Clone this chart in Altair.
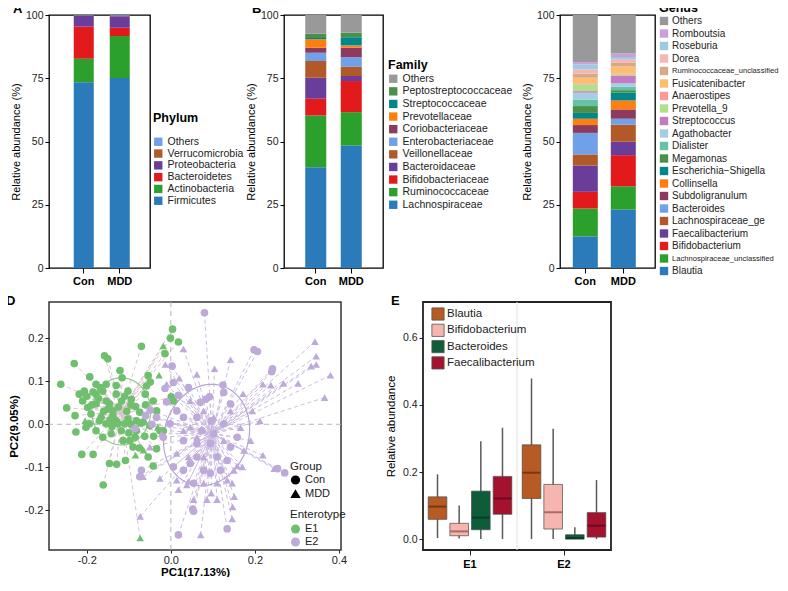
import altair as alt
import pandas as pd
import numpy as np

FONT = "Liberation Sans"
groups = ["Con", "MDD"]

# ---------------- Panel A: Phylum (bottom -> top) ----------------
phylum_names = ["Firmicutes", "Actinobacteria", "Bacteroidetes", "Proteobacteria", "Verrucomicrobia", "Others"]
phylum_colors = ["#2b7bba", "#2ca02c", "#e31a1c", "#6a3d9a", "#b15928", "#6fa0e8"]
phylum_con = [73.4, 9.3, 12.7, 4.2, 0.2, 0.2]
phylum_mdd = [75.1, 16.6, 3.3, 4.5, 0.2, 0.3]

# ---------------- Panel B: Family ----------------
family_names = ["Lachnospiraceae", "Ruminococcaceae", "Bifidobacteriaceae", "Bacteroidaceae",
                "Veillonellaceae", "Enterobacteriaceae", "Coriobacteriaceae", "Prevotellaceae",
                "Streptococcaceae", "Peptostreptococcaceae", "Others"]
family_colors = ["#2b7bba", "#2ca02c", "#e31a1c", "#6a3d9a", "#b15928", "#6fa0e8",
                 "#8c3b5e", "#ff7f0e", "#00868b", "#4a8f4a", "#999999"]
family_con = [39.8, 20.5, 6.6, 8.3, 6.6, 3.3, 2.0, 3.3, 0.5, 1.7, 7.4]
family_mdd = [48.4, 13.2, 12.3, 2.0, 3.6, 3.8, 3.8, 0.9, 3.2, 1.8, 7.0]

# ---------------- Panel C: Genus ----------------
genus_names = ["Blautia", "Lachnospiraceae_unclassified", "Bifidobacterium", "Faecalibacterium",
               "Lachnospiraceae_ge", "Bacteroides", "Subdoligranulum", "Collinsella",
               "Escherichia\u2212Shigella", "Megamonas", "Dialister", "Agathobacter", "Streptococcus",
               "Prevotella_9", "Anaerostipes", "Fusicatenibacter", "Ruminococcaceae_unclassified",
               "Dorea", "Roseburia", "Romboutsia", "Others"]
genus_colors = ["#2b7bba", "#2ca02c", "#e31a1c", "#6a3d9a", "#b15928", "#6fa0e8", "#8c3b5e",
                "#ff7f0e", "#00868b", "#4a8f4a", "#66c2a5", "#a6cee3", "#c27cc4", "#b2df8a",
                "#fb9a99", "#fdbf6f", "#d8a88a", "#f4b6b0", "#9ecae1", "#c9a0dc", "#999999"]
genus_con = [12.5, 11.0, 6.6, 10.4, 4.4, 8.5, 3.1, 2.5, 2.3, 2.7, 2.6, 2.7, 0.6, 2.7, 0.4,
             2.2, 1.6, 1.7, 2.0, 0.9, 18.6]
genus_mdd = [23.1, 9.2, 12.3, 5.3, 6.8, 2.3, 3.7, 3.5, 3.1, 1.0, 1.3, 1.4, 2.9, 0.5, 0.5,
             2.7, 1.5, 1.4, 0.9, 1.4, 15.2]
genus_label_sizes = [10, 7.6, 10, 10, 10, 10, 10, 10, 10, 10, 10, 10, 10, 10, 10, 10, 7.6,
                     10, 10, 10, 10]

# ---------------- Panel D: PCoA points ----------------
e1_con = [(-0.262, 0.093), (-0.230, 0.141), (-0.248, 0.038), (-0.228, 0.020), (-0.226, -0.018),
          (-0.212, -0.070), (-0.185, -0.070), (-0.193, 0.110), (-0.158, 0.159), (-0.150, 0.152),
          (-0.121, 0.125), (-0.116, 0.108), (-0.070, 0.181), (-0.014, 0.164), (0.004, 0.221),
          (-0.001, 0.200), (0.018, 0.191), (-0.054, 0.113), (-0.049, 0.098), (-0.058, 0.089),
          (-0.146, -0.091), (-0.129, -0.093), (-0.108, -0.084), (-0.161, -0.141), (-0.054, -0.076),
          (-0.042, -0.097), (-0.034, -0.057), (-0.018, -0.015), (-0.041, -0.028), (-0.062, -0.028),
          (0.006, 0.054), (0.001, 0.064), (-0.084, 0.041), (-0.102, 0.012), (-0.074, 0.028),
          (-0.082, -0.015), (-0.110, 0.001), (-0.138, 0.031), (-0.130, 0.008), (-0.178, 0.070),
          (-0.178, 0.093), (-0.162, 0.077), (-0.210, 0.054), (-0.198, 0.039), (-0.190, 0.024),
          (-0.178, -0.015), (-0.162, -0.030), (-0.142, -0.022), (-0.114, -0.038), (-0.098, -0.038),
          (-0.090, -0.053), (-0.154, 0.054), (-0.146, 0.047), (-0.138, 0.020), (-0.126, 0.001),
          (-0.218, 0.070), (-0.206, 0.077), (-0.154, 0.093), (-0.170, 0.008), (-0.082, 0.008),
          (-0.066, 0.005), (-0.042, 0.054), (-0.034, 0.031), (-0.178, 0.047), (-0.166, 0.016),
          (-0.154, 0.001), (-0.194, 0.001), (-0.202, -0.007), (-0.130, 0.070), (-0.102, 0.077),
          (-0.094, 0.058), (-0.050, -0.003), (-0.061, 0.070), (-0.026, -0.015), (-0.117, 0.054),
          (-0.185, 0.075), (-0.172, 0.060), (-0.150, 0.035), (-0.125, 0.040), (-0.105, 0.030),
          (-0.095, 0.000), (-0.140, -0.005), (-0.118, -0.015), (-0.100, -0.020), (-0.085, -0.030),
          (-0.200, 0.065), (-0.188, 0.045), (-0.160, 0.030), (-0.145, 0.010), (-0.110, 0.065),
          (-0.130, 0.090), (-0.075, -0.055), (-0.060, 0.045), (-0.168, 0.085), (-0.095, 0.045)]
e1_mdd = [(-0.018, 0.182), (-0.028, 0.114), (-0.204, 0.008), (-0.084, -0.072), (-0.031, -0.007),
          (-0.074, 0.002), (-0.073, -0.264), (-0.162, 0.031), (-0.065, -0.060)]
e2_con = [(0.080, 0.259), (0.003, 0.135), (-0.014, 0.083), (-0.010, 0.052), (0.006, 0.097),
          (0.018, 0.067), (0.083, 0.058), (0.092, 0.064), (0.124, 0.091), (0.126, 0.074),
          (0.142, 0.047), (0.096, 0.008), (0.070, 0.051), (0.042, 0.085), (0.198, 0.173),
          (0.206, 0.169), (0.242, 0.129), (0.240, 0.122), (0.271, -0.113), (0.254, -0.103),
          (0.052, -0.197), (0.054, -0.202), (0.018, -0.257), (0.134, -0.243), (-0.070, -0.107),
          (-0.074, -0.122), (-0.034, 0.016), (-0.049, 0.033), (-0.002, 0.001), (0.030, -0.038),
          (0.062, -0.045), (0.074, -0.015), (0.102, -0.022), (0.094, -0.045), (0.062, -0.076),
          (0.046, -0.091), (0.030, -0.107), (0.078, -0.107), (0.094, -0.114), (0.110, -0.076),
          (0.134, -0.084), (0.142, -0.053), (0.158, -0.030), (0.126, 0.001), (0.062, 0.016),
          (0.030, 0.016), (0.014, 0.031), (-0.018, -0.030), (0.054, -0.137), (0.118, -0.107),
          (0.006, -0.099), (-0.085, -0.010), (-0.045, 0.000), (-0.060, 0.020)]
e2_mdd = [(0.343, 0.192), (0.346, 0.158), (0.346, 0.139), (0.334, 0.135), (0.380, 0.114),
          (0.366, 0.062), (0.268, 0.095), (0.238, 0.091), (0.219, 0.093), (0.303, 0.095),
          (0.212, 0.008), (0.219, -0.072), (0.246, -0.103), (0.172, 0.071), (0.166, -0.008),
          (0.142, 0.150), (0.104, 0.129), (0.062, 0.116), (0.030, 0.175), (-0.013, 0.139),
          (0.020, 0.107), (-0.010, 0.093), (-0.022, -0.022), (-0.050, -0.053), (-0.026, -0.126),
          (0.014, -0.130), (0.042, -0.133), (0.038, -0.141), (0.096, -0.160), (0.110, -0.175),
          (0.086, -0.175), (0.146, -0.137), (0.151, -0.168), (0.147, -0.192), (0.146, -0.220),
          (0.150, -0.107), (0.158, -0.097), (0.170, -0.099), (0.071, -0.257), (-0.073, -0.214),
          (-0.066, -0.122), (0.054, -0.175), (0.018, -0.152), (0.078, -0.076), (0.110, -0.137),
          (0.134, -0.130), (0.102, 0.016), (0.078, 0.031), (0.046, -0.007), (0.030, -0.015),
          (0.014, -0.068), (0.062, -0.030), (0.126, -0.038), (0.174, -0.061), (0.190, -0.038),
          (0.194, 0.031), (0.142, 0.031), (0.042, -0.076), (0.078, -0.137), (0.046, 0.054)]
# ellipse parameters: centre x, centre y, semi-axis x, semi-axis y, rotation (deg)
ellipse_params = {"E1": (-0.118, 0.030, 0.070, 0.078, 0.0),
                  "E2": (0.085, -0.025, 0.100, 0.120, -20.0)}

# ---------------- Panel E: box statistics ----------------
box_genera = ["Blautia", "Bifidobacterium", "Bacteroides", "Faecalibacterium"]
box_colors = ["#b85a23", "#f6b5ae", "#0e5c3a", "#a5122e"]
median_colors = ["#5e2a0c", "#8a4e46", "#05301c", "#560616"]
box_e1_lower = [0.003, 0.002, 0.000, 0.000]
box_e1_q1 = [0.059, 0.010, 0.028, 0.074]
box_e1_median = [0.097, 0.023, 0.064, 0.121]
box_e1_q3 = [0.126, 0.047, 0.143, 0.187]
box_e1_upper = [0.193, 0.100, 0.292, 0.332]
box_e2_lower = [0.000, 0.000, 0.000, 0.000]
box_e2_q1 = [0.121, 0.030, 0.000, 0.006]
box_e2_median = [0.198, 0.080, 0.003, 0.040]
box_e2_q3 = [0.281, 0.163, 0.013, 0.079]
box_e2_upper = [0.479, 0.329, 0.035, 0.176]


def letter(txt, dx, offset=-6):
    return alt.TitleParams(txt, anchor="start", frame="group", dx=dx, offset=offset,
                           fontSize=13, fontWeight="bold", font=FONT, color="black")


def stack_bars(names, colors, con, mdd, ttl, width, pi, po, al, legend):
    rows = []
    for g, vals in zip(groups, [con, mdd]):
        for i, (n, v) in enumerate(zip(names, vals)):
            rows.append({"group": g, "taxon": n, "value": v, "rank": i})
    df = pd.DataFrame(rows)
    base = alt.Chart(df, title=ttl) if ttl is not None else alt.Chart(df)
    return base.mark_bar().encode(
        x=alt.X("group:N", sort=groups,
                scale=alt.Scale(paddingInner=pi, paddingOuter=po, align=al),
                axis=alt.Axis(title=None, labelAngle=0, labelFontWeight="bold", labelFontSize=11,
                              labelFont=FONT, labelColor="black", tickSize=5, tickColor="black",
                              domain=False, labelPadding=2)),
        y=alt.Y("value:Q", stack="zero", scale=alt.Scale(domain=[0, 100], nice=False),
                axis=alt.Axis(title="Relative abundance (%)", values=[0, 25, 50, 75, 100],
                              tickSize=4, tickColor="black", domain=False, grid=False,
                              labelFontSize=10.5, labelFont=FONT, labelColor="#222",
                              titleFontSize=11, titleFontWeight="normal", titleFont=FONT,
                              titleColor="black", titlePadding=4)),
        color=alt.Color("taxon:N", scale=alt.Scale(domain=names[::-1], range=colors[::-1]),
                        legend=legend),
        order=alt.Order("rank:Q", sort="ascending"),
    ).properties(width=width, height=253,
                 view=alt.ViewBackground(stroke="black", strokeWidth=1.3))


def std_legend(title, lx, ly, row_pad, title_pad):
    return alt.Legend(title=title, orient="none", legendX=lx, legendY=ly,
                      symbolType="square", symbolSize=70, symbolStrokeWidth=0,
                      labelFontSize=10.5, labelFont=FONT, labelColor="#222",
                      titleFontSize=12.5, titleFontWeight="bold", titleFont=FONT,
                      titleColor="black", titlePadding=title_pad, rowPadding=row_pad,
                      labelOffset=4, labelLimit=300)


A = stack_bars(phylum_names, phylum_colors, phylum_con, phylum_mdd, letter("A", -36),
               101, 0.444, 0.625, 0.55, std_legend("Phylum", 104, 97, 0.8, 12))
B = stack_bars(family_names, family_colors, family_con, family_mdd, letter("B", -32),
               99, 0.408, 0.598, 0.5, std_legend("Family", 104, 44, 1.6, 2))
C_bars = stack_bars(genus_names, genus_colors, genus_con, genus_mdd, None,
                    95, 0.342, 0.421, 0.4, None)

# Genus key drawn as marks (two labels use a smaller font, as in the figure)
gkey = pd.DataFrame({"taxon": genus_names, "fs": genus_label_sizes})
key_order = genus_names[::-1]
key_y = alt.Y("taxon:N", sort=key_order, axis=None,
              scale=alt.Scale(domain=key_order, range=[6, 256], padding=0))
key_sq = alt.Chart(gkey).mark_square(size=70, opacity=1).encode(
    x=alt.value(104), y=key_y,
    color=alt.Color("taxon:N", scale=alt.Scale(domain=genus_names[::-1], range=genus_colors[::-1]),
                    legend=None))
key_tx = alt.Chart(gkey).mark_text(align="left", baseline="middle", font=FONT, color="#222").encode(
    x=alt.value(112), y=key_y, text="taxon:N", size=alt.Size("fs:Q", scale=None))
key_title = alt.Chart(pd.DataFrame({"t": ["Genus"]})).mark_text(
    align="left", baseline="middle", font=FONT, fontSize=12.5, fontWeight="bold", color="black"
).encode(x=alt.value(99), y=alt.value(-7), text="t:N")
C = alt.layer(C_bars, key_sq, key_tx, key_title, title=letter("C", -32)).resolve_scale(y="independent")

# ---------------- Panel D ----------------
pts = []
for ent, grp, arr in [("E1", "Con", e1_con), ("E1", "MDD", e1_mdd),
                      ("E2", "Con", e2_con), ("E2", "MDD", e2_mdd)]:
    for x, y in arr:
        pts.append({"x": x, "y": y, "ent": ent, "group": grp})
pts = pd.DataFrame(pts)

ell_rows = []
for ent, (cx, cy, a, b, ang) in ellipse_params.items():
    phi = np.deg2rad(ang)
    for k, t in enumerate(np.linspace(0, 2 * np.pi, 91)):
        ell_rows.append({"ent": ent, "k": k,
                         "x": cx + a * np.cos(t) * np.cos(phi) - b * np.sin(t) * np.sin(phi),
                         "y": cy + a * np.cos(t) * np.sin(phi) + b * np.sin(t) * np.cos(phi)})
ell = pd.DataFrame(ell_rows)
zero = pd.DataFrame({"v": [0.0]})

xsc = alt.Scale(domain=[-0.29, 0.405], nice=False, zero=False)
ysc = alt.Scale(domain=[-0.292, 0.284], nice=False, zero=False)
minus_fix = "replace(datum.label, '\u2212', '-')"
xax = alt.Axis(title="PC1(17.13%)", values=[-0.2, 0.0, 0.2, 0.4], format=".1f", labelExpr=minus_fix,
               grid=False, domain=False, tickSize=3, tickColor="#222", labelFontSize=11,
               labelFont=FONT, labelColor="#222", titleFontSize=11.5, titleFont=FONT,
               titleFontWeight="bold", titleColor="black", titlePadding=1, labelPadding=1)
yax = alt.Axis(title="PC2(9.05%)", values=[-0.2, -0.1, 0.0, 0.1, 0.2], format=".1f",
               labelExpr=minus_fix, grid=False, domain=False, tickSize=4, tickColor="#222",
               labelFontSize=11, labelFont=FONT, labelColor="#222", titleFontSize=11.5,
               titleFont=FONT, titleFontWeight="bold", titleColor="black", titlePadding=5)

z_v = alt.Chart(zero).mark_rule(strokeDash=[5, 4], color="#b5b5b5", strokeWidth=1).encode(
    x=alt.X("v:Q", scale=xsc, axis=xax))
z_h = alt.Chart(zero).mark_rule(strokeDash=[5, 4], color="#b5b5b5", strokeWidth=1).encode(
    y=alt.Y("v:Q", scale=ysc, axis=yax))
star = alt.Chart(pts).transform_joinaggregate(
    cx="mean(x)", cy="mean(y)", groupby=["ent"]
).mark_rule(strokeDash=[4, 3], strokeWidth=1).encode(
    x=alt.X("x:Q", scale=xsc, axis=xax), y=alt.Y("y:Q", scale=ysc, axis=yax),
    x2="cx:Q", y2="cy:Q",
    color=alt.condition("datum.ent == 'E1'", alt.value("#dcc4d2"), alt.value("#cbbde0")))
ellipse = alt.Chart(ell).mark_line(strokeWidth=1.2).encode(
    x=alt.X("x:Q", scale=xsc, axis=xax), y=alt.Y("y:Q", scale=ysc, axis=yax),
    detail="ent:N", order="k:Q",
    color=alt.condition("datum.ent == 'E1'", alt.value("#8fca8f"), alt.value("#b5a4d4")))
points = alt.Chart(pts).mark_point(filled=True, size=58, opacity=1).encode(
    x=alt.X("x:Q", scale=xsc, axis=xax), y=alt.Y("y:Q", scale=ysc, axis=yax),
    color=alt.Color("ent:N", scale=alt.Scale(domain=["E1", "E2"], range=["#6fbf6f", "#bdaad8"]),
                    legend=alt.Legend(title="Enterotype", orient="none", legendX=241, legendY=207,
                                      symbolType="circle", symbolSize=80, symbolStrokeWidth=1,
                                      labelFontSize=11, labelFont=FONT, labelColor="#222",
                                      titleFontSize=11.5, titleFont=FONT, titleFontWeight="normal",
                                      titleColor="#222", titlePadding=3, rowPadding=1)),
    shape=alt.Shape("group:N", scale=alt.Scale(domain=["Con", "MDD"],
                                               range=["circle", "triangle-up"]),
                    legend=alt.Legend(title="Group", orient="none", legendX=241, legendY=159,
                                      symbolFillColor="black", symbolStrokeColor="black",
                                      symbolSize=60, labelFontSize=11, labelFont=FONT,
                                      labelColor="#222", titleFontSize=11.5, titleFont=FONT,
                                      titleFontWeight="normal", titleColor="#222",
                                      titlePadding=2, rowPadding=0)),
)
D = alt.layer(z_v, z_h, star, ellipse, points, title=letter("D", -43)).properties(
    width=292, height=248, view=alt.ViewBackground(stroke="#333", strokeWidth=1.5))

# ---------------- Panel E ----------------
brow = []
for ent, lo, q1, md, q3, up in [("E1", box_e1_lower, box_e1_q1, box_e1_median, box_e1_q3, box_e1_upper),
                                ("E2", box_e2_lower, box_e2_q1, box_e2_median, box_e2_q3, box_e2_upper)]:
    for i, g in enumerate(box_genera):
        brow.append({"ent": ent, "genus": g, "lower": lo[i], "q1": q1[i], "median": md[i],
                     "q3": q3[i], "upper": up[i], "mc": median_colors[i]})
bdf = pd.DataFrame(brow)
exa = alt.Axis(title=None, labelAngle=0, labelFontWeight="bold", labelFontSize=11,
               labelFont=FONT, labelColor="black", tickSize=5, tickColor="#222",
               domain=False, labelPadding=3)
exs = alt.Scale(domain=["E1", "E2"], paddingInner=0, paddingOuter=0)
ebx = alt.X("ent:N", scale=exs, axis=exa)
ebo = alt.XOffset("genus:N", sort=box_genera, scale=alt.Scale(paddingInner=0.14, paddingOuter=0.24))
eys = alt.Scale(domain=[-0.0325, 0.707], nice=False, zero=False)
eya = alt.Axis(title="Relative abundance", values=[0.0, 0.2, 0.4, 0.6], format=".1f", grid=False,
               domain=False, tickSize=4, tickColor="#222", labelFontSize=10.5, labelFont=FONT,
               labelColor="#222", titleFontSize=11.5, titleFont=FONT, titleFontWeight="normal",
               titleColor="black", titlePadding=6)

sep = alt.Chart(pd.DataFrame({"ent": ["E2"]})).mark_rule(color="#e2e2e2", strokeWidth=1).encode(
    x=alt.X("ent:N", bandPosition=0, scale=exs, axis=exa))
whisk = alt.Chart(bdf).mark_rule(color="#5a5a5a", strokeWidth=1.5).encode(
    x=ebx, xOffset=ebo, y=alt.Y("lower:Q", scale=eys, axis=eya), y2="upper:Q")
box = alt.Chart(bdf).mark_bar(stroke="#4a4a4a", strokeWidth=0.7).encode(
    x=ebx, xOffset=ebo, y=alt.Y("q1:Q", scale=eys, axis=eya), y2="q3:Q",
    color=alt.Color("genus:N", sort=box_genera,
                    scale=alt.Scale(domain=box_genera, range=box_colors),
                    legend=alt.Legend(title=None, orient="none", legendX=8, legendY=5,
                                      symbolType="square", symbolSize=150, symbolStrokeColor="#555",
                                      symbolStrokeWidth=0.8, labelFontSize=11.5, labelFont=FONT,
                                      labelColor="#222", rowPadding=0.3, labelOffset=2)))
med = alt.Chart(bdf).mark_tick(thickness=2, size=18).encode(
    x=ebx, xOffset=ebo, y=alt.Y("median:Q", scale=eys, axis=eya),
    fill=alt.Fill("mc:N", scale=None))
E = alt.layer(sep, whisk, box, med, title=letter("E", -32)).properties(
    width=188, height=248, view=alt.ViewBackground(stroke="#222", strokeWidth=1.8))

top = alt.hconcat(alt.hconcat(A, B, spacing=-1).resolve_scale(color="independent"),
                  C, spacing=6).resolve_scale(color="independent")
bottom = alt.hconcat(D, E, spacing=36).resolve_scale(
    color="independent", x="independent", y="independent")
chart = alt.vconcat(top, bottom, spacing=6).resolve_scale(
    color="independent", shape="independent", x="independent", y="independent"
).configure(font=FONT, padding={"top": -14, "left": -3, "right": 0, "bottom": -2},
            background="white")

chart.save("out.html", embed_options={"renderer": "svg", "actions": False})
